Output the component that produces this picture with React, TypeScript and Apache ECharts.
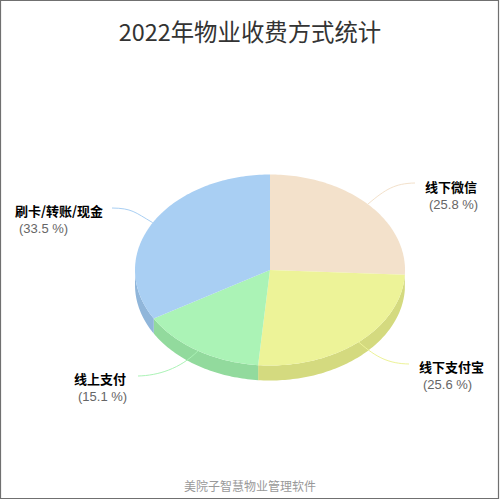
import React, { useEffect, useRef } from "react";
import * as echarts from "echarts";

const titleText = "2022年物业收费方式统计";
const footerText = "美院子智慧物业管理软件";
const categories = ["线下微信", "线下支付宝", "线上支付", "刷卡/转账/现金"];
const shares = [25.8, 25.6, 15.1, 33.5];
const topColors = ["#F3E1CB", "#EDF398", "#ABF3B6", "#A9CFF3"];
const sideColors = ["#DAC8B2", "#D4DA7F", "#92DA9D", "#90B6DA"];

// Projection of the tilted pie
const CX = 270, CY = 270, RX = 135, RY = 95.5, DEPTH = 15;
// Label anchor and connector end for each slice
const nameAnchors = [[425, 186.5], [419, 366.5], [74, 378.5], [15, 210.5]];
const connectorEnds = [[415, 183], [409, 364], [138, 376], [112, 208]];

const total = shares.reduce((a, b) => a + b, 0);
const FONT = '"Noto Sans CJK SC", "Noto Sans", sans-serif';

function pt(angle: number, dy = 0): number[] {
  return [CX + RX * Math.sin(angle), CY - RY * Math.cos(angle) + dy];
}
function startAngle(i: number): number {
  let s = 0;
  for (let k = 0; k < i; k++) s += shares[k];
  return (s / total) * Math.PI * 2;
}
function arcPoints(a: number, b: number, dy = 0): number[][] {
  const n = Math.max(2, Math.ceil((b - a) / 0.02));
  const out: number[][] = [];
  for (let k = 0; k <= n; k++) out.push(pt(a + ((b - a) * k) / n, dy));
  return out;
}

const renderWall = (params: any, api: any) => {
  const i = params.dataIndex;
  const a = startAngle(i);
  const b = a + (api.value(0) / total) * Math.PI * 2;
  const lo = Math.max(a, Math.PI / 2);
  const hi = Math.min(b, (Math.PI * 3) / 2);
  if (hi <= lo) return { type: "group", children: [] };
  const top = arcPoints(lo, hi);
  const bottom = arcPoints(lo, hi, DEPTH).reverse();
  return {
    type: "polygon",
    shape: { points: [...top, ...bottom] },
    style: { fill: sideColors[i] },
  };
};

const renderTop = (params: any, api: any) => {
  const i = params.dataIndex;
  const a = startAngle(i);
  const b = a + (api.value(0) / total) * Math.PI * 2;
  return {
    type: "polygon",
    shape: { points: [[CX, CY], ...arcPoints(a, b)] },
    style: { fill: topColors[i] },
  };
};

const renderLabel = (params: any, api: any) => {
  const i = params.dataIndex;
  const a = startAngle(i);
  const v = api.value(0);
  const mid = a + (v / total) * Math.PI;
  const [sx, sy] = pt(mid);
  const [ex, ey] = connectorEnds[i];
  const [nx, ny] = nameAnchors[i];
  const dir = ex > sx ? -1 : 1;
  return {
    type: "group",
    children: [
      {
        type: "bezierCurve",
        shape: {
          x1: ex,
          y1: ey,
          cpx1: ex + dir * 20,
          cpy1: ey - (sy - ey) * -0.02,
          cpx2: sx - dir * 18,
          cpy2: sy + (ey - sy) * 0.72,
          x2: sx,
          y2: sy,
        },
        style: { stroke: topColors[i], lineWidth: 1, fill: "none" },
      },
      {
        type: "text",
        x: nx,
        y: ny,
        style: {
          text: categories[i],
          font: `bold 13px ${FONT}`,
          fill: "#000000",
          verticalAlign: "middle",
        },
      },
      {
        type: "text",
        x: nx + 4,
        y: ny + 17.5,
        style: {
          text: `(${v.toFixed(1)} %)`,
          font: '13px "Liberation Sans", Arial, sans-serif',
          fill: "#666666",
          verticalAlign: "middle",
        },
      },
    ],
  };
};

export default function App() {
  const ref = useRef<HTMLDivElement>(null);
  useEffect(() => {
    const chart = echarts.init(ref.current!, undefined, { renderer: "svg" });
    const data = shares.map((v) => [v]);
    chart.setOption({
      animation: false,
      backgroundColor: "#ffffff",
      title: [
        {
          text: titleText,
          left: "center",
          top: 14,
          textStyle: { fontFamily: FONT, fontSize: 23.4, fontWeight: "normal", color: "#333333" },
        },
        {
          text: footerText,
          left: "center",
          top: 474,
          textStyle: { fontFamily: FONT, fontSize: 12, fontWeight: "normal", color: "#999999" },
        },
      ],
      graphic: [
        {
          type: "rect",
          shape: { x: 0.5, y: 0.5, width: 498, height: 498 },
          style: { fill: "none", stroke: "#707070", lineWidth: 1.2 },
          silent: true,
        },
      ],
      series: [
        { type: "custom", coordinateSystem: "none", z: 1, silent: true, data, renderItem: renderWall },
        { type: "custom", coordinateSystem: "none", z: 2, silent: true, data, renderItem: renderTop },
        { type: "custom", coordinateSystem: "none", z: 3, silent: true, data, renderItem: renderLabel },
      ],
    });
    return () => chart.dispose();
  }, []);
  return <div ref={ref} style={{ position: "absolute", left: 0, top: 0, width: 500, height: 500 }} />;
}
